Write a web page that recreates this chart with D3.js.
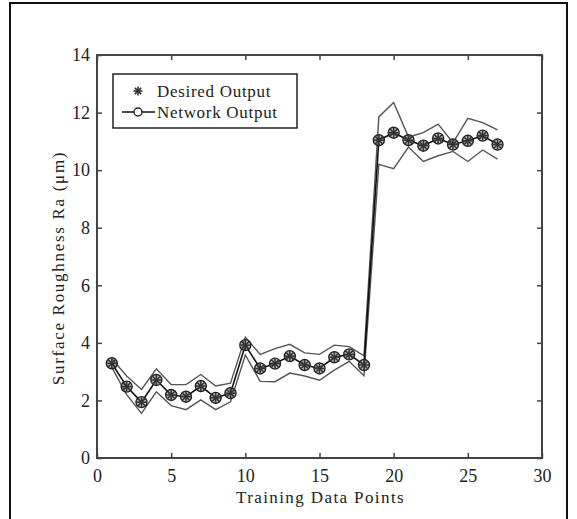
<!DOCTYPE html>
<html>
<head>
<meta charset="utf-8">
<script src="https://cdn.jsdelivr.net/npm/d3@7"></script>
<style>
  body { margin: 0; background: #fff; }
  text { font-family: "Liberation Serif", "Times New Roman", serif; fill: #222; }
</style>
</head>
<body>
<svg width="577" height="519"></svg>
<script>
// training data point index
const points = d3.range(1, 28);
// desired output (asterisks)
const desired = [3.29, 2.48, 1.94, 2.71, 2.19, 2.13, 2.5, 2.09, 2.25, 3.92, 3.11, 3.28, 3.54, 3.23, 3.11,
                 3.5, 3.6, 3.23, 11.04, 11.3, 11.04, 10.85, 11.1, 10.89, 11.02, 11.2, 10.89];
// network output (circles)
const network = [3.29, 2.48, 1.94, 2.71, 2.19, 2.13, 2.5, 2.09, 2.25, 3.92, 3.11, 3.28, 3.54, 3.23, 3.11,
                 3.5, 3.6, 3.23, 11.04, 11.3, 11.04, 10.85, 11.1, 10.89, 11.02, 11.2, 10.89];
// upper / lower bounds
const upper = [3.45, 2.85, 2.38, 3.1, 2.55, 2.55, 2.9, 2.5, 2.6, 4.2, 3.6, 3.8, 3.95, 3.65, 3.6,
               3.92, 3.87, 3.55, 11.85, 12.35, 11.15, 11.3, 11.6, 10.95, 11.8, 11.65, 11.4];
const lower = [3.15, 2.2, 1.55, 2.3, 1.82, 1.68, 2.02, 1.68, 1.95, 3.58, 2.66, 2.65, 2.95, 2.85, 2.7,
               3.05, 3.36, 2.86, 10.2, 10.05, 10.8, 10.3, 10.5, 10.65, 10.3, 10.7, 10.38];
const xTicks = [0, 5, 10, 15, 20, 25, 30];
const yTicks = [0, 2, 4, 6, 8, 10, 12, 14];
const legendLabels = ["Desired Output", "Network Output"];

const svg = d3.select("svg");
const mLeft = 97, mRight = 542, mTop = 55, mBottom = 458;

const x = d3.scaleLinear().domain([0, 30]).range([mLeft, mRight]);
const y = d3.scaleLinear().domain([0, 14]).range([mBottom, mTop]);

// outer frame
svg.append("rect")
  .attr("x", 10).attr("y", 3).attr("width", 557).attr("height", 530)
  .attr("fill", "none").attr("stroke", "#111").attr("stroke-width", 2);

const axisColor = "#444";
function styleAxis(g) {
  g.select(".domain").remove();
  g.selectAll(".tick line").attr("stroke", axisColor).attr("stroke-width", 1.5);
  g.selectAll(".tick text").attr("font-size", 18).attr("font-family", "Liberation Serif").attr("fill", "#222");
}

svg.append("g").attr("transform", `translate(0,${mBottom})`)
  .call(d3.axisBottom(x).tickValues(xTicks).tickSize(-5).tickPadding(11).tickFormat(d3.format("d")))
  .call(styleAxis);
svg.append("g").attr("transform", `translate(0,${mTop})`)
  .call(d3.axisTop(x).tickValues(xTicks).tickSize(-5).tickFormat(""))
  .call(styleAxis);
svg.append("g").attr("transform", `translate(${mLeft},0)`)
  .call(d3.axisLeft(y).tickValues(yTicks).tickSize(-5).tickPadding(7).tickFormat(d3.format("d")))
  .call(styleAxis);
svg.append("g").attr("transform", `translate(${mRight},0)`)
  .call(d3.axisRight(y).tickValues(yTicks).tickSize(-5).tickFormat(""))
  .call(styleAxis);

svg.append("rect")
  .attr("x", mLeft).attr("y", mTop).attr("width", mRight - mLeft).attr("height", mBottom - mTop)
  .attr("fill", "none").attr("stroke", axisColor).attr("stroke-width", 2);

const line = d3.line().x((d, i) => x(points[i])).y(d => y(d));

svg.append("path").attr("d", line(upper))
  .attr("fill", "none").attr("stroke", "#555").attr("stroke-width", 1.4);
svg.append("path").attr("d", line(lower))
  .attr("fill", "none").attr("stroke", "#555").attr("stroke-width", 1.4);
svg.append("path").attr("d", line(network))
  .attr("fill", "none").attr("stroke", "#111").attr("stroke-width", 1.6);

function asterisk(g, cx, cy, r) {
  for (let k = 0; k < 4; k++) {
    const a = k * Math.PI / 4;
    g.append("line")
      .attr("x1", cx - r * Math.cos(a)).attr("y1", cy - r * Math.sin(a))
      .attr("x2", cx + r * Math.cos(a)).attr("y2", cy + r * Math.sin(a))
      .attr("stroke", "#333").attr("stroke-width", 1.6);
  }
}

const marks = svg.append("g");
marks.selectAll("circle").data(network).join("circle")
  .attr("cx", (d, i) => x(points[i])).attr("cy", d => y(d)).attr("r", 5.5)
  .attr("fill", "#888").attr("fill-opacity", 0.5).attr("stroke", "#222").attr("stroke-width", 1.4);
desired.forEach((d, i) => asterisk(marks, x(points[i]), y(d), 5));

// legend
const lg = svg.append("g");
lg.append("rect").attr("x", 113).attr("y", 74).attr("width", 184).attr("height", 54)
  .attr("fill", "#fff").attr("stroke", "#222").attr("stroke-width", 1.5);
asterisk(lg, 138, 91, 4.5);
lg.append("line").attr("x1", 122).attr("x2", 155).attr("y1", 112).attr("y2", 112)
  .attr("stroke", "#111").attr("stroke-width", 1.6);
lg.append("circle").attr("cx", 138).attr("cy", 112).attr("r", 4)
  .attr("fill", "#fff").attr("stroke", "#222").attr("stroke-width", 1.4);
lg.selectAll("text.leg").data(legendLabels).join("text")
  .attr("class", "leg")
  .attr("x", 157).attr("y", (d, i) => 97 + i * 21)
  .attr("font-size", 17).attr("letter-spacing", 0.7)
  .text(d => d);

// axis titles
svg.append("text").attr("x", (mLeft + mRight) / 2 + 1).attr("y", 503)
  .attr("text-anchor", "middle").attr("font-size", 17).attr("letter-spacing", 1.4)
  .text("Training Data Points");
svg.append("text").attr("transform", `translate(64,268) rotate(-90)`)
  .attr("text-anchor", "middle").attr("font-size", 17).attr("letter-spacing", 1.7)
  .text("Surface Roughness Ra (\u03bcm)");
</script>
</body>
</html>
